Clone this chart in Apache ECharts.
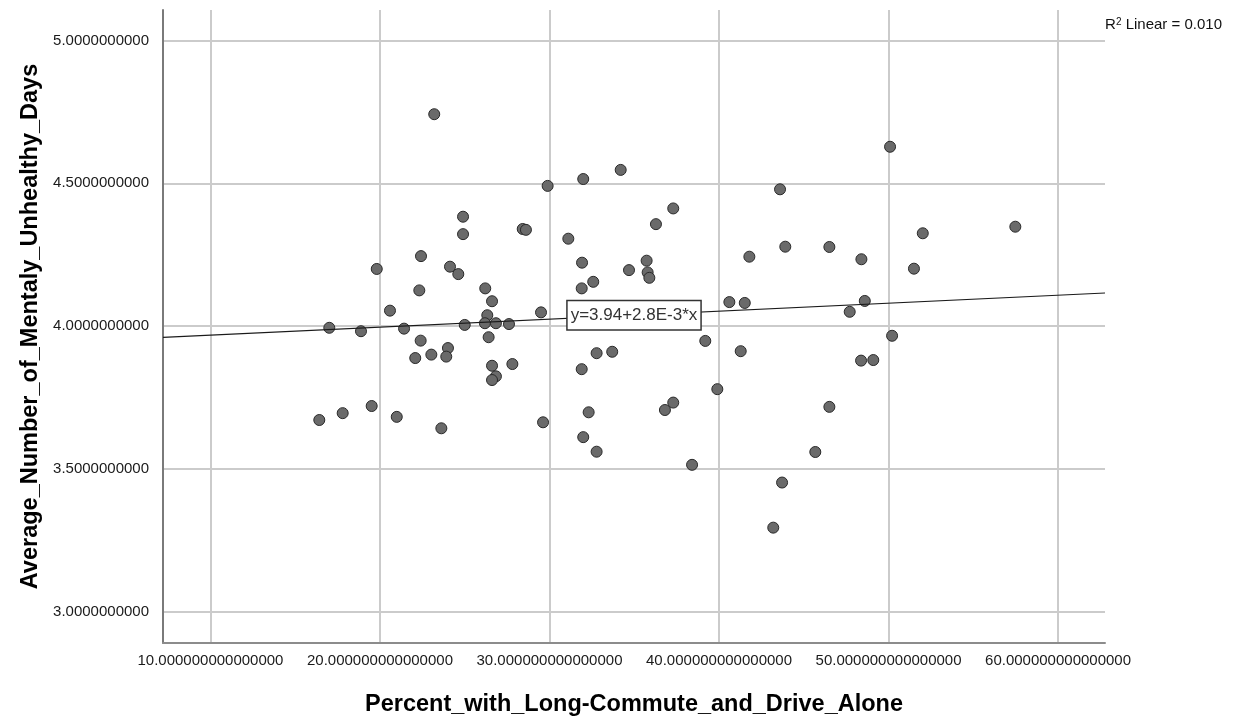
<!DOCTYPE html>
<html>
<head>
<meta charset="utf-8">
<title>Scatter</title>
<script src="https://cdn.jsdelivr.net/npm/echarts@6.0.0/dist/echarts.min.js"></script>
<style>
  html, body { margin: 0; padding: 0; overflow: hidden; background: #fff; }
  #chart { width: 1239px; height: 717px; }
</style>
</head>
<body>
<div id="chart"></div>
<script>
  // data
  const commute = [
    23.20, 34.20, 31.99, 29.89, 37.30, 36.28, 24.90, 24.90, 28.42, 28.61,
    31.11, 22.42, 19.81, 24.13, 24.62, 31.92, 34.69, 35.73, 35.79, 35.89,
    32.58, 31.90, 22.32, 26.21, 26.61, 20.59, 29.50, 26.33, 17.01, 18.88,
    21.42, 25.00, 26.19, 26.84, 27.61, 26.41, 22.40, 24.01, 23.91, 22.08,
    23.03, 26.61, 27.81, 26.84, 26.61, 32.78, 33.70, 31.90, 16.42, 17.80,
    19.51, 20.99, 23.62, 29.62, 32.31, 37.30, 36.81, 31.99, 32.78, 38.41,
    50.09, 43.60, 57.48, 52.02, 43.91, 46.51, 41.79, 48.40, 51.50, 40.61,
    41.52, 48.60, 47.71, 39.19, 50.21, 41.28, 48.38, 49.10, 39.90, 46.51,
    45.68, 43.72, 43.20
  ];
  const mentalDays = [
    4.742, 4.547, 4.515, 4.491, 4.412, 4.357, 4.383, 4.322, 4.340, 4.337,
    4.306, 4.245, 4.200, 4.208, 4.182, 4.222, 4.196, 4.229, 4.188, 4.169,
    4.155, 4.132, 4.125, 4.132, 4.087, 4.054, 4.048, 4.038, 3.994, 3.982,
    3.991, 4.004, 4.010, 4.010, 4.007, 3.961, 3.949, 3.923, 3.893, 3.888,
    3.900, 3.861, 3.867, 3.824, 3.811, 3.905, 3.910, 3.849, 3.671, 3.695,
    3.720, 3.682, 3.642, 3.663, 3.698, 3.732, 3.706, 3.611, 3.560, 3.514,
    4.628, 4.479, 4.348, 4.325, 4.278, 4.277, 4.243, 4.234, 4.201, 4.084,
    4.081, 4.088, 4.050, 3.948, 3.966, 3.912, 3.879, 3.881, 3.779, 3.717,
    3.559, 3.452, 3.294
  ];
  const xTicks = [10, 20, 30, 40, 50, 60];
  const yTicks = [3.0, 3.5, 4.0, 4.5, 5.0];
  const fitIntercept = 3.94;
  const fitSlope = 0.0028;
  const fitText = 'y=3.94+2.8E-3*x';
  const rSquared = '0.010';

  const xMin = 7.2, xMax = 62.77;
  const yMin = 2.89, yMax = 5.107;
  const font = "'Liberation Sans', Arial, sans-serif";

  const points = commute.map((v, i) => [v, mentalDays[i]]);
  const fitLine = [xMin, xMax].map(x => [x, fitIntercept + fitSlope * x]);
  const midX = (xMin + xMax) / 2;

  const chart = echarts.init(document.getElementById('chart'), null, { width: 1239, height: 717 });
  const option = {
    animation: false,
    backgroundColor: '#fff',
    title: {
      right: 12,
      top: 12,
      text: '{a|R}{s|2}{a| Linear = ' + rSquared + '}',
      textStyle: {
        fontWeight: 'normal',
        rich: {
          a: { fontFamily: font, fontSize: 15, fontWeight: 'normal', color: '#111' },
          s: { fontFamily: font, fontSize: 10, fontWeight: 'normal', color: '#111', verticalAlign: 'top', padding: [0, 0, 6, 0] }
        }
      }
    },
    grid: { left: 163, right: 134, top: 10, bottom: 74, containLabel: false, outerBoundsMode: 'none' },
    xAxis: {
      type: 'value',
      min: xMin,
      max: xMax,
      name: 'Percent_with_Long-Commute_and_Drive_Alone',
      nameLocation: 'middle',
      nameGap: 50,
      nameTextStyle: { fontFamily: font, fontSize: 23.5, fontWeight: 'bold', color: '#000' },
      axisLine: { show: true, onZero: false, lineStyle: { color: '#8c8c8c', width: 2 } },
      axisTick: { show: false, customValues: xTicks },
      axisLabel: {
        customValues: xTicks,
        margin: 10,
        fontFamily: font,
        fontSize: 15,
        color: '#1a1a1a',
        formatter: v => v.toFixed(15)
      },
      splitLine: { show: true, lineStyle: { color: '#cbcbcb', width: 2 } }
    },
    yAxis: {
      type: 'value',
      min: yMin,
      max: yMax,
      name: 'Average_Number_of_Mentaly_Unhealthy_Days',
      nameLocation: 'middle',
      nameGap: 119,
      nameTextStyle: { fontFamily: font, fontSize: 23.5, fontWeight: 'bold', color: '#000' },
      axisLine: { show: true, onZero: false, lineStyle: { color: '#7a7a7a', width: 2 } },
      axisTick: { show: false, customValues: yTicks },
      axisLabel: {
        customValues: yTicks,
        margin: 14,
        fontFamily: font,
        fontSize: 15,
        color: '#1a1a1a',
        formatter: v => v.toFixed(10)
      },
      splitLine: { show: true, lineStyle: { color: '#cbcbcb', width: 2 } }
    },
    series: [
      {
        type: 'scatter',
        data: points,
        symbol: 'circle',
        symbolSize: 11,
        itemStyle: { color: '#6a6a6a', borderColor: '#2a2a2a', borderWidth: 1, opacity: 1 },
        z: 2
      },
      {
        type: 'line',
        data: fitLine,
        symbol: 'none',
        lineStyle: { color: '#1a1a1a', width: 1.2 },
        z: 3,
        markPoint: {
          symbol: 'rect',
          symbolSize: 1,
          itemStyle: { color: 'rgba(0,0,0,0)' },
          label: {
            show: true,
            position: 'inside',
            formatter: fitText,
            fontFamily: font,
            fontSize: 17,
            color: '#333',
            backgroundColor: '#fff',
            borderColor: '#333',
            borderWidth: 1.5,
            padding: [6, 3, 5, 3]
          },
          data: [{ coord: [midX, fitIntercept + fitSlope * midX] }]
        }
      }
    ]
  };
  chart.setOption(option);
</script>
</body>
</html>
